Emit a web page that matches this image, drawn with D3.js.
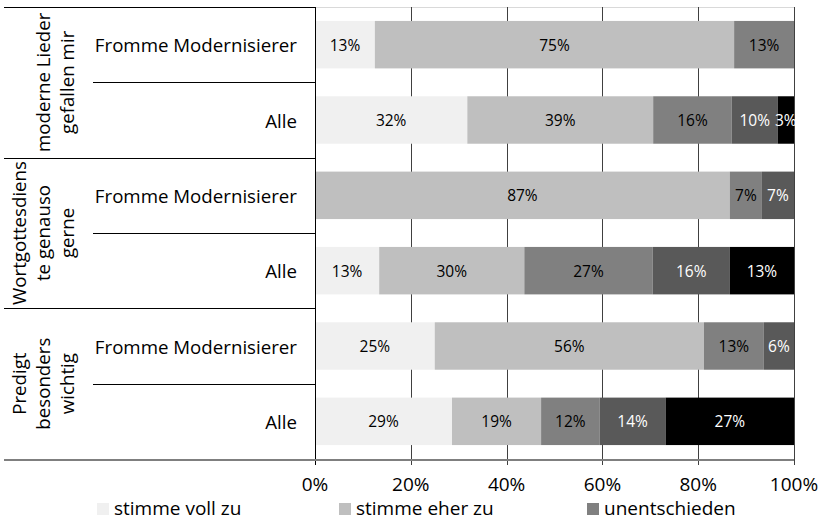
<!DOCTYPE html>
<html>
<head>
<meta charset="utf-8">
<script src="https://cdn.jsdelivr.net/npm/d3@7"></script>
<style>
  html, body { margin: 0; padding: 0; background: #fff; }
  svg { display: block; font-family: "Open Sans", sans-serif; }
</style>
</head>
<body>
<svg id="chart" width="822" height="521"></svg>
<script>
// ---- data ----
const groups = [
  ["moderne Lieder", "gefallen mir"],
  ["Wortgottesdiens", "te genauso", "gerne"],
  ["Predigt", "besonders", "wichtig"]
];
const subgroups = ["Fromme Modernisierer", "Alle"];
const seriesNames = ["stimme voll zu", "stimme eher zu", "unentschieden", "stimme eher nicht zu", "stimme gar nicht zu"];
const seriesColors = ["#f0f0f0", "#bfbfbf", "#808080", "#595959", "#000000"];
const labelColors = ["#000", "#000", "#000", "#fff", "#fff"];
// rows in order, top to bottom (percent values per series)
const rowValues = [
  [12.5, 75.0, 12.5, 0, 0],
  [31.8, 38.8, 16.4, 9.6, 3.4],
  [0, 86.6, 6.7, 6.7, 0],
  [13.4, 30.3, 26.8, 16.1, 13.4],
  [25.0, 56.2, 12.5, 6.3, 0],
  [28.6, 18.6, 12.2, 13.8, 26.8]
];
const tickValues = [0, 20, 40, 60, 80, 100];
const legendShown = [0, 1, 2];

// ---- layout ----
const svg = d3.select("#chart");
const pLeft = 315, pRight = 794, pTop = 7, pBottom = 459;
const x = d3.scaleLinear().domain([0, 100]).range([pLeft, pRight]);
const rowIds = rowValues.map((d, i) => i);
const y = d3.scaleBand().domain(rowIds).range([pTop, pBottom]).paddingInner(0.37).paddingOuter(0.185);
const yRow = d3.scaleBand().domain(rowIds).range([pTop, pBottom]);

// plot area top border (light)
svg.append("line").attr("x1", pLeft).attr("x2", pRight).attr("y1", pTop + 0.5).attr("y2", pTop + 0.5)
  .attr("stroke", "#d9d9d9").attr("stroke-width", 1);

// gridlines
svg.append("g").selectAll("line").data(tickValues.slice(1)).join("line")
  .attr("x1", d => Math.round(x(d)) + 0.5).attr("x2", d => Math.round(x(d)) + 0.5)
  .attr("y1", pTop).attr("y2", pBottom + 6)
  .attr("stroke", "#404040").attr("stroke-width", 1);

// bars
const rows = svg.append("g").selectAll("g").data(rowValues).join("g");
rows.each(function(vals, ri) {
  let acc = 0;
  const segs = vals.map((v, si) => { const s = {v, si, x0: acc}; acc += v; return s; }).filter(s => s.v > 0);
  const g = d3.select(this);
  g.selectAll("rect").data(segs).join("rect")
    .attr("x", s => x(s.x0)).attr("width", s => x(s.x0 + s.v) - x(s.x0))
    .attr("y", y(ri)).attr("height", y.bandwidth())
    .attr("fill", s => seriesColors[s.si]);
  g.selectAll("text").data(segs).join("text")
    .attr("x", s => x(s.x0 + s.v / 2)).attr("y", y(ri) + y.bandwidth() / 2)
    .attr("text-anchor", "middle").attr("dominant-baseline", "central")
    .attr("font-size", 15.5).attr("fill", s => labelColors[s.si])
    .text(s => Math.round(s.v) + "%");
});

// left axis line
svg.append("line").attr("x1", pLeft + 0.5).attr("x2", pLeft + 0.5).attr("y1", pTop).attr("y2", pBottom + 6)
  .attr("stroke", "#000").attr("stroke-width", 1);

// category label area lines
svg.append("line").attr("x1", 4).attr("x2", pLeft).attr("y1", pTop + 0.5).attr("y2", pTop + 0.5).attr("stroke", "#000");
groups.forEach((g, gi) => {
  const gTop = yRow(gi * 2), gBot = yRow(gi * 2 + 1) + yRow.bandwidth();
  if (gi > 0) {
    svg.append("line").attr("x1", 4).attr("x2", pLeft).attr("y1", Math.round(gTop) + 0.5).attr("y2", Math.round(gTop) + 0.5).attr("stroke", "#000");
  }
  const mid = yRow(gi * 2 + 1);
  svg.append("line").attr("x1", 93).attr("x2", pLeft).attr("y1", Math.round(mid) + 0.5).attr("y2", Math.round(mid) + 0.5).attr("stroke", "#000");
  // rotated group label (last line anchored at x = 66)
  const cy = (gTop + gBot) / 2, cx = 66;
  const t = svg.append("text").attr("transform", `translate(${cx},${cy}) rotate(-90)`)
    .attr("text-anchor", "middle").attr("font-size", 18.7).attr("fill", "#000");
  const n = g.length;
  g.forEach((line, li) => {
    t.append("tspan").attr("x", 0).attr("y", (li - (n - 1)) * 24).attr("dominant-baseline", "central").text(line);
  });
  // subgroup labels
  subgroups.forEach((s, si) => {
    const ri = gi * 2 + si;
    svg.append("text").attr("x", 297).attr("y", yRow(ri) + yRow.bandwidth() / 2)
      .attr("text-anchor", "end").attr("dominant-baseline", "central")
      .attr("font-size", 18.7).attr("fill", "#000").text(s);
  });
});

// bottom axis
svg.append("line").attr("x1", 4).attr("x2", pRight).attr("y1", pBottom + 1).attr("y2", pBottom + 1)
  .attr("stroke", "#7f7f7f").attr("stroke-width", 2);
svg.append("g").selectAll("text").data(tickValues).join("text")
  .attr("x", d => x(d)).attr("y", 484).attr("text-anchor", "middle").attr("dominant-baseline", "central")
  .attr("font-size", 19).attr("fill", "#000").text(d => d + "%");

// legend
const legendX = [97, 339, 587];
const lg = svg.append("g").selectAll("g").data(legendShown).join("g")
  .attr("transform", (d, i) => `translate(${legendX[i]},503)`);
lg.append("rect").attr("width", 12).attr("height", 12).attr("fill", d => seriesColors[d]);
lg.append("text").attr("x", 17).attr("y", 5).attr("dominant-baseline", "central")
  .attr("font-size", 19).attr("fill", "#000").text(d => seriesNames[d]);
</script>
</body>
</html>
